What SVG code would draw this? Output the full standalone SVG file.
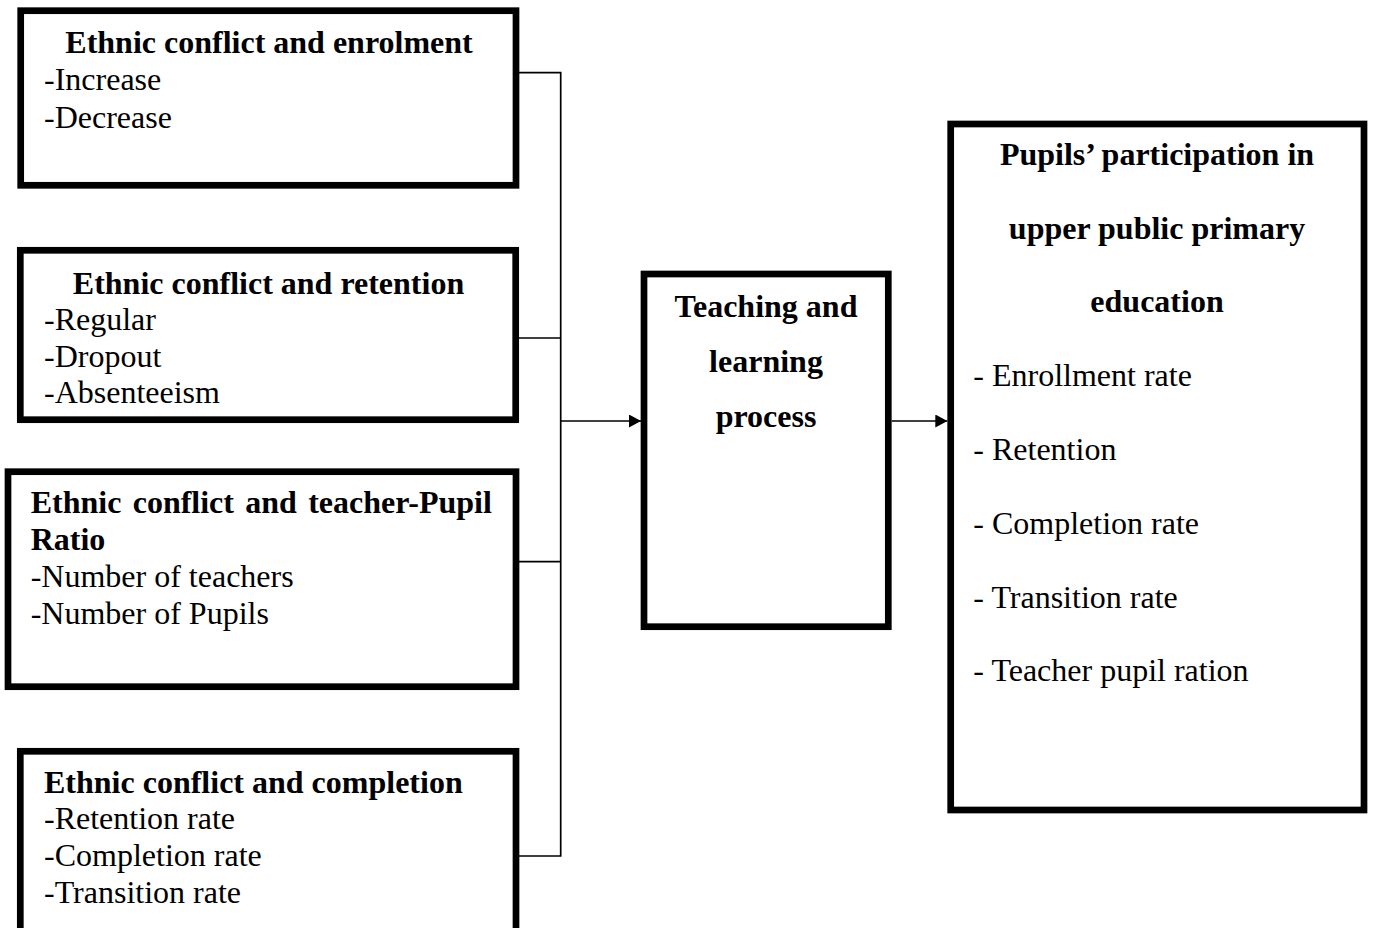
<svg xmlns="http://www.w3.org/2000/svg" width="1373" height="928" viewBox="0 0 1373 928">
<style>
.box{fill:#fff;stroke:#000;stroke-width:6.7}
.t{font-family:"Liberation Serif","Times New Roman",serif;font-size:32px;fill:#000}
.b{font-weight:bold}
.c{text-anchor:middle}
.ln{fill:none;stroke:#000;stroke-width:1.7}
</style>
<defs>
<marker id="ah" markerWidth="12" markerHeight="13" refX="12" refY="6.5" orient="auto" markerUnits="userSpaceOnUse">
<path d="M0,0 L12,6.5 L0,13 Z" fill="#000"/>
</marker>
</defs>
<rect width="1373" height="928" fill="#fff"/>
<g id="connectors">
<path class="ln" d="M519,72.7 H560.7 V856 H519"/>
<path class="ln" d="M519,338 H560.7"/>
<path class="ln" d="M519,561.7 H560.7"/>
<path class="ln" d="M560.7,421 H641" marker-end="url(#ah)"/>
<path class="ln" d="M891.7,421 H947.3" marker-end="url(#ah)"/>
</g>
<g id="enrolment">
<rect class="box" x="20.7" y="10.7" width="495.3" height="174.6"/>
<text class="t b c" x="269" y="52.7">Ethnic conflict and enrolment</text>
<text class="t" x="44" y="90">-Increase</text>
<text class="t" x="44" y="127.7">-Decrease</text>
</g>
<g id="retention">
<rect class="box" x="20.3" y="250.3" width="495.4" height="169.4"/>
<text class="t b c" x="268.5" y="294">Ethnic conflict and retention</text>
<text class="t" x="44" y="330">-Regular</text>
<text class="t" x="44" y="366.7">-Dropout</text>
<text class="t" x="44" y="403">-Absenteeism</text>
</g>
<g id="ratio">
<rect class="box" x="8" y="471.7" width="508" height="215"/>
<text class="t b" x="30.7" y="513" word-spacing="3.3">Ethnic conflict and teacher-Pupil</text>
<text class="t b" x="30.7" y="550">Ratio</text>
<text class="t" x="30.7" y="586.7">-Number of teachers</text>
<text class="t" x="30.7" y="624">-Number of Pupils</text>
</g>
<g id="completion">
<rect class="box" x="20.3" y="751.3" width="495.7" height="200"/>
<text class="t b" x="44" y="793">Ethnic conflict and completion</text>
<text class="t" x="44" y="828.5">-Retention rate</text>
<text class="t" x="44" y="865.5">-Completion rate</text>
<text class="t" x="44" y="902.5">-Transition rate</text>
</g>
<g id="teaching">
<rect class="box" x="644" y="274" width="244.3" height="352.7"/>
<text class="t b c" x="766" y="316.7">Teaching and</text>
<text class="t b c" x="766" y="371.7">learning</text>
<text class="t b c" x="766" y="426.7">process</text>
</g>
<g id="participation">
<rect class="box" x="950.7" y="124" width="413.3" height="686"/>
<text class="t b c" x="1157" y="165">Pupils’ participation in</text>
<text class="t b c" x="1157" y="238.5">upper public primary</text>
<text class="t b c" x="1157" y="312">education</text>
<text class="t" x="973.3" y="386.3">- Enrollment rate</text>
<text class="t" x="973.3" y="460">- Retention</text>
<text class="t" x="973.3" y="533.8">- Completion rate</text>
<text class="t" x="973.3" y="607.6">- Transition rate</text>
<text class="t" x="973.3" y="681.4">- Teacher pupil ration</text>
</g>
</svg>
